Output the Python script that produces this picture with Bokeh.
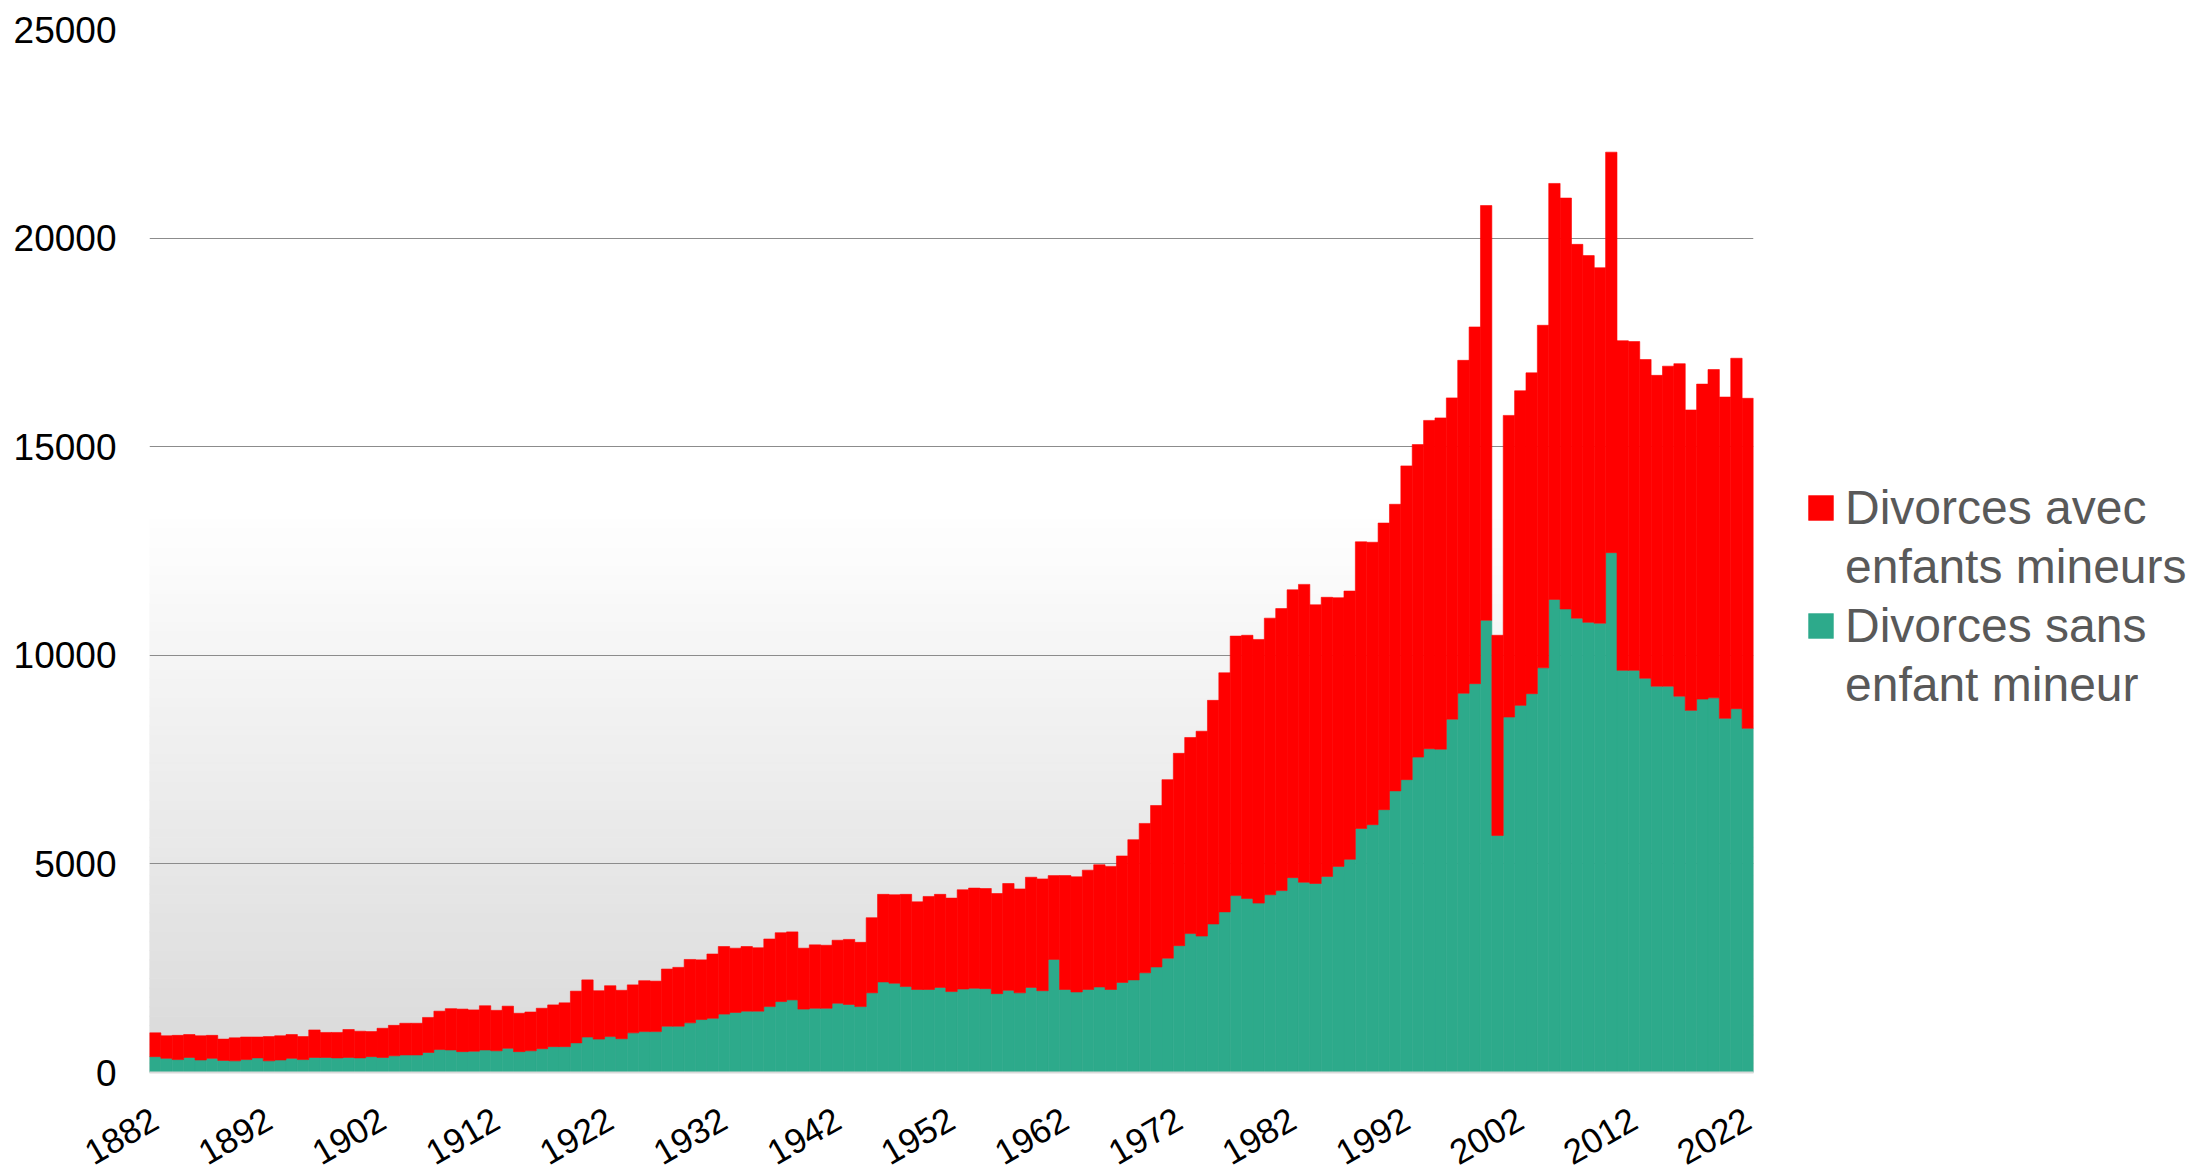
import math
import numpy as np
from bokeh.plotting import figure
from bokeh.models import ColumnDataSource, FixedTicker, Legend, LegendItem, Range1d, BasicTickFormatter
from bokeh.embed import file_html
from bokeh.resources import INLINE

years = list(range(1882, 2023))

# total divorces per year
total = [
    950, 880, 890, 910, 880, 890, 800, 830,          # 1882-1889
    850, 850, 860, 880, 910, 860, 1020, 960, 960, 1030,   # 1890-1899
    990, 980, 1060, 1130, 1180, 1180, 1320, 1470, 1530, 1520,  # 1900-1909
    1500, 1600, 1490, 1590, 1420, 1450, 1540, 1620, 1670, 1950,  # 1910-1919
    2220, 1960, 2080, 1970, 2100, 2200, 2190, 2480, 2520, 2710,  # 1920-1929
    2700, 2840, 3020, 2980, 3020, 2990, 3200, 3350, 3370, 2980,  # 1930-1939
    3060, 3050, 3170, 3190, 3120, 3710, 4270, 4260, 4270, 4090,  # 1940-1949
    4220, 4270, 4180, 4380, 4420, 4410, 4290, 4530, 4400, 4680,  # 1950-1959
    4640, 4720, 4720, 4690, 4850, 4980, 4940, 5190, 5580, 5970,  # 1960-1969
    6400, 7020, 7650, 8030, 8180, 8920, 9580, 10460, 10480, 10380,  # 1970-1979
    10890, 11120, 11570, 11700, 11210, 11390, 11380, 11540, 12720, 12710,  # 1980-1989
    13170, 13620, 14540, 15050, 15630, 15690, 16170, 17070, 17870, 20780,  # 1990-1999
    10480, 15750, 16340, 16770, 17910, 21310, 20960, 19850, 19580, 19290,  # 2000-2009
    22060, 17540, 17520, 17090, 16710, 16930, 16990, 15880, 16500, 16850,  # 2010-2019
    16190, 17120, 16160,  # 2020-2022
]

# divorces without minor children (green)
sans = [
    380, 340, 310, 360, 300, 340, 290, 280,          # 1882-1889
    310, 350, 280, 300, 340, 310, 360, 360, 350, 360,  # 1890-1899
    350, 380, 360, 400, 420, 420, 480, 550, 540, 500,  # 1900-1909
    510, 540, 520, 580, 500, 520, 570, 620, 620, 710,  # 1910-1919
    850, 800, 860, 810, 950, 980, 980, 1110, 1110, 1190,  # 1920-1929
    1270, 1300, 1400, 1440, 1470, 1470, 1580, 1700, 1740, 1520,  # 1930-1939
    1540, 1540, 1660, 1630, 1580, 1910, 2170, 2140, 2060, 1990,  # 1940-1949
    1990, 2040, 1940, 2000, 2020, 2010, 1890, 1970, 1910, 2040,  # 1950-1959
    1960, 2710, 1990, 1930, 1990, 2050, 1990, 2160, 2220, 2390,  # 1960-1969
    2530, 2740, 3040, 3330, 3270, 3560, 3850, 4240, 4170, 4060,  # 1970-1979
    4260, 4360, 4670, 4560, 4530, 4700, 4940, 5110, 5850, 5940,  # 1980-1989
    6300, 6750, 7020, 7560, 7760, 7750, 8470, 9090, 9320, 10840,  # 1990-1999
    5680, 8520, 8800, 9080, 9700, 11340, 11110, 10890, 10790, 10770,  # 2000-2009
    12460, 9640, 9640, 9450, 9260, 9260, 9020, 8680, 8950, 8980,  # 2010-2019
    8490, 8720, 8250,  # 2020-2022
]

avec = [t - s for t, s in zip(total, sans)]

x_ticks = list(range(1882, 2023, 10))
y_ticks = [0, 5000, 10000, 15000, 20000, 25000]
# legend labels, one entry per text line
legend_lines = [["Divorces avec", "enfants mineurs"], ["Divorces sans", "enfant mineur"]]

RED = "#FF0000"
GREEN = "#2DAA8B"
FONT = "Liberation Sans"

p = figure(frame_width=1604, frame_height=1043, output_backend="svg", toolbar_location=None,
           x_range=Range1d(1881.5, 2022.5), y_range=Range1d(0, 25000),
           min_border_left=149, min_border_right=20, min_border_top=29, min_border_bottom=97)
p.outline_line_color = None
p.background_fill_color = "white"
p.border_fill_color = "white"

# background vertical gradient (grey at bottom -> white)
n = 60
edges = np.linspace(0, 13500, n + 1)
cols = []
for k in range(n):
    mid = (edges[k] + edges[k + 1]) / 2
    v = int(round(217 + 38 * mid / 13500))
    cols.append("#%02x%02x%02x" % (v, v, v))
bg = ColumnDataSource(dict(bottom=edges[:-1], top=edges[1:], c=cols))
p.quad(left=1881.5, right=2022.5, bottom="bottom", top="top", fill_color="c",
       line_color="c", line_width=1, source=bg, level="image")

src = ColumnDataSource(dict(year=years, sans=sans, avec=avec))
rs = p.vbar_stack(["sans", "avec"], x="year", width=1.0, color=[GREEN, RED],
                  line_width=0.6, source=src)

# invisible renderer used for the legend's continuation lines
blank = p.vbar(x=[], top=[], width=1.0, fill_alpha=0, line_alpha=0)

# grid
p.xgrid.grid_line_color = None
p.ygrid.ticker = FixedTicker(ticks=y_ticks)
p.ygrid.grid_line_color = "#8c8c8c"
p.ygrid.grid_line_width = 1

# axes
p.xaxis.ticker = FixedTicker(ticks=x_ticks)
p.xaxis.major_label_orientation = math.pi / 6
p.xaxis.major_tick_line_color = None
p.xaxis.minor_tick_line_color = None
p.xaxis.axis_line_color = "#d9d9d9"
p.xaxis.axis_line_width = 2
p.xaxis.major_label_text_font = FONT
p.xaxis.major_label_text_font_size = "35px"
p.xaxis.major_label_text_color = "black"
p.xaxis.major_label_standoff = 38

p.yaxis.ticker = FixedTicker(ticks=y_ticks)
p.yaxis.formatter = BasicTickFormatter(use_scientific=False)
p.yaxis.axis_line_color = None
p.yaxis.major_tick_line_color = None
p.yaxis.minor_tick_line_color = None
p.yaxis.major_label_text_font = FONT
p.yaxis.major_label_text_font_size = "37px"
p.yaxis.major_label_text_color = "black"
p.yaxis.major_label_standoff = 27

items = [
    LegendItem(label=legend_lines[0][0], renderers=[rs[1]]),
    LegendItem(label=legend_lines[0][1], renderers=[blank]),
    LegendItem(label=legend_lines[1][0], renderers=[rs[0]]),
    LegendItem(label=legend_lines[1][1], renderers=[blank]),
]
legend = Legend(items=items, location=(52, 360), margin=0, padding=0, spacing=3,
                glyph_width=31, glyph_height=31, label_standoff=9, label_height=56,
                label_text_font=FONT, label_text_font_size="48px",
                label_text_color="#595959", label_text_line_height=1.17,
                border_line_color=None, background_fill_alpha=0)
p.add_layout(legend, "right")

open("out.html", "w").write(file_html(p, INLINE))
